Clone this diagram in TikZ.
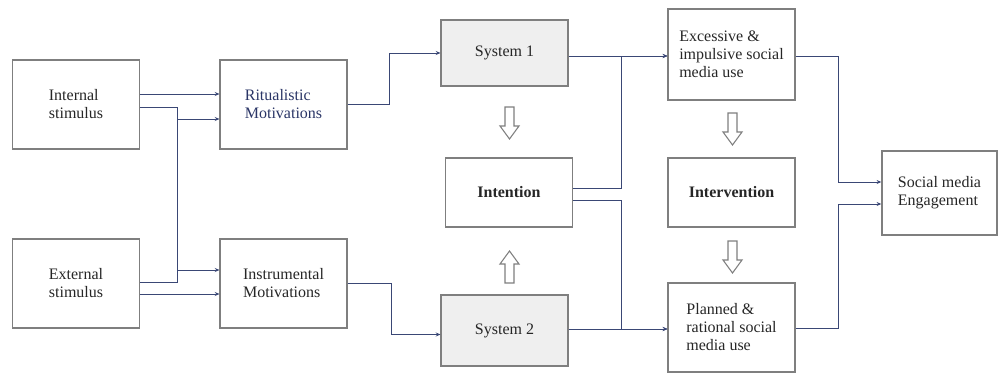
\documentclass[tikz,border=0pt]{standalone}
\usepackage{fontspec}
\setmainfont{Liberation Serif}
\usetikzlibrary{calc,arrows.meta}
\definecolor{linkblue}{HTML}{3A4775}
\definecolor{boxgray}{HTML}{7F7F7F}
\definecolor{sysfill}{HTML}{EFEFEF}
\definecolor{ritublue}{HTML}{2A3566}
\begin{document}
\begin{tikzpicture}[x=0.75pt,y=-0.75pt,
  box/.style={draw=boxgray,line width=1.1pt,minimum width=95pt,minimum height=66.75pt,
    inner sep=0pt,align=left,font=\fontsize{12pt}{13.5pt}\selectfont,text=black!85},
  sysbox/.style={box,fill=sysfill},
  conn/.style={draw=linkblue,line width=0.6pt,-{Stealth[length=3.5pt,width=3pt]}},
  bigarrow/.pic={\draw[boxgray,line width=0.8pt,fill=white]
    (-4.5,0) -- (-4.5,19) -- (-9.5,19) -- (0,32) -- (9.5,19) -- (4.5,19) -- (4.5,0) -- cycle;}]
  \useasboundingbox (0,0) rectangle (999,374);
  % stimuli and motivations
  \node[box] (ints) at (76,104.5) {Internal\\stimulus};
  \node[box] (exts) at (76,283.5) {External\\stimulus};
  \node[box,text=ritublue] (ritu) at (283.5,104.5) {Ritualistic\\Motivations};
  \node[box] (instr) at (283.5,283.5) {Instrumental\\Motivations};
  % systems
  \node[sysbox,minimum height=49.5pt] (sys1) at (504.5,53) {System 1};
  \node[box,minimum height=51.75pt,font=\fontsize{12pt}{13.5pt}\selectfont\bfseries] (inten) at (509,192.5) {Intention};
  \node[sysbox,minimum height=53.25pt] (sys2) at (504.5,330.5) {System 2};
  % use and outcome
  \node[box,minimum height=68.25pt] (exc) at (731.5,54.5) {Excessive \&\\impulsive social\\media use};
  \node[box,minimum height=51.75pt,font=\fontsize{12pt}{13.5pt}\selectfont\bfseries] (interv) at (731.5,192.5) {Intervention};
  \node[box] (plan) at (731.5,327.5) {Planned \&\\rational social\\media use};
  \node[box,minimum width=86.25pt,minimum height=63pt] (soc) at (939.5,193) {Social media\\Engagement};
  % connectors
  \draw[conn] ($(ints.east)+(0,-10.5)$) -- ($(ritu.west)+(0,-10.5)$);
  \draw[conn] ($(ints.east)+(0,2.5)$) -- ++(37,0) |- ($(instr.west)+(0,-13.5)$);
  \draw[conn] ($(exts.east)+(0,-1.5)$) -- ++(37,0) |- ($(ritu.west)+(0,14.5)$);
  \draw[conn] ($(exts.east)+(0,10.5)$) -- ($(instr.west)+(0,10.5)$);
  \draw[conn] (ritu.east) -- ++(42,0) |- (sys1.west);
  \draw[conn] (instr.east) -- ++(44,0) |- ($(sys2.west)+(0,4)$);
  \draw[conn] ($(sys1.east)+(0,3)$) -- ($(exc.west)+(0,1.5)$);
  \draw[conn] ($(inten.east)+(0,-4.5)$) -- ++(48,0) |- ($(exc.west)+(0,1.5)$);
  \draw[conn] ($(inten.east)+(0,7.5)$) -- ++(48,0) |- ($(plan.west)+(0,1.5)$);
  \draw[conn] ($(sys2.east)+(0,-1.5)$) -- ($(plan.west)+(0,1.5)$);
  \draw[conn] ($(exc.east)+(0,1.5)$) -- ++(43,0) |- ($(soc.west)+(0,-11)$);
  \draw[conn] ($(plan.east)+(0,0.5)$) -- ++(43,0) |- ($(soc.west)+(0,11)$);
  % hollow block arrows
  \pic at (509.5,107) {bigarrow};
  \pic[rotate=180] at (509.5,283) {bigarrow};
  \pic at (732.5,113) {bigarrow};
  \pic at (732.5,241) {bigarrow};
\end{tikzpicture}
\end{document}
